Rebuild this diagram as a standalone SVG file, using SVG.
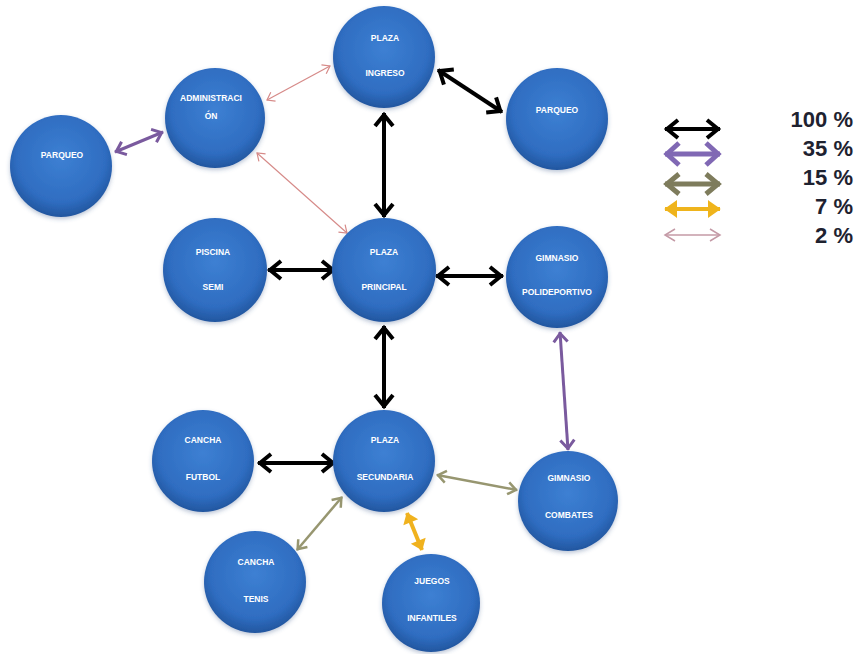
<svg xmlns="http://www.w3.org/2000/svg" width="858" height="654" viewBox="0 0 858 654">
<style>
.n{fill:url(#gb);filter:url(#sh)}
.t{font-family:"Liberation Sans",Arial,sans-serif;font-weight:bold;font-size:8.5px;fill:#ffffff;text-anchor:middle}
.lg{font-family:"Liberation Sans",Arial,sans-serif;font-weight:bold;font-size:22px;fill:#1e2230;text-anchor:end}
.k{stroke:#000;stroke-width:4;fill:none;marker-start:url(#mk);marker-end:url(#mk)}
.p{stroke:#7a5a9e;stroke-width:3;fill:none;marker-start:url(#mp);marker-end:url(#mp)}
.o{stroke:#979670;stroke-width:2.5;fill:none;marker-start:url(#mo);marker-end:url(#mo)}
.y{stroke:#f0b21e;stroke-width:4;fill:none;marker-start:url(#my);marker-end:url(#my)}
.r{stroke:#d68a88;stroke-width:1.2;fill:none;marker-start:url(#mr);marker-end:url(#mr)}
</style>
<defs>
<radialGradient id="gb" cx="50%" cy="42%" r="58%">
<stop offset="0" stop-color="#3d80d3"/>
<stop offset="0.75" stop-color="#2f6dc1"/>
<stop offset="1" stop-color="#22569f"/>
</radialGradient>
<filter id="sh" x="-20%" y="-20%" width="140%" height="140%">
<feDropShadow dx="0" dy="2" stdDeviation="2" flood-color="#3a5a8a" flood-opacity="0.35"/>
</filter>
<marker id="mk" markerUnits="userSpaceOnUse" orient="auto-start-reverse" overflow="visible" markerWidth="1" markerHeight="1">
<path d="M-13,-9 L-2,0 L-13,9" fill="none" stroke="#000" stroke-width="4" stroke-linejoin="miter"/>
</marker>
<marker id="mp" markerUnits="userSpaceOnUse" orient="auto-start-reverse" overflow="visible" markerWidth="1" markerHeight="1">
<path d="M-10,-7 L-1.5,0 L-10,7" fill="none" stroke="#7a5a9e" stroke-width="3"/>
</marker>
<marker id="mo" markerUnits="userSpaceOnUse" orient="auto-start-reverse" overflow="visible" markerWidth="1" markerHeight="1">
<path d="M-9,-6 L-1,0 L-9,6" fill="none" stroke="#979670" stroke-width="2.5"/>
</marker>
<marker id="my" markerUnits="userSpaceOnUse" orient="auto-start-reverse" overflow="visible" markerWidth="1" markerHeight="1">
<path d="M-9,-6 L-1,0 L-9,6 Z" fill="#f0b21e" stroke="#f0b21e" stroke-width="2"/>
</marker>
<marker id="mr" markerUnits="userSpaceOnUse" orient="auto-start-reverse" overflow="visible" markerWidth="1" markerHeight="1">
<path d="M-7,-5 L0,0 L-7,5" fill="none" stroke="#d68a88" stroke-width="1.2"/>
</marker>
<marker id="lp" markerUnits="userSpaceOnUse" orient="auto-start-reverse" overflow="visible" markerWidth="1" markerHeight="1">
<path d="M-14,-11 L-2,0 L-14,11" fill="none" stroke="#8068b4" stroke-width="5"/>
</marker>
<marker id="lo" markerUnits="userSpaceOnUse" orient="auto-start-reverse" overflow="visible" markerWidth="1" markerHeight="1">
<path d="M-14,-10 L-2,0 L-14,10" fill="none" stroke="#7e7c5c" stroke-width="5"/>
</marker>
<marker id="ly" markerUnits="userSpaceOnUse" orient="auto-start-reverse" overflow="visible" markerWidth="1" markerHeight="1">
<path d="M-11,-7 L-1,0 L-11,7 Z" fill="#efb41c" stroke="#efb41c" stroke-width="2"/>
</marker>
<marker id="lr" markerUnits="userSpaceOnUse" orient="auto-start-reverse" overflow="visible" markerWidth="1" markerHeight="1">
<path d="M-10,-6 L0,0 L-10,6" fill="none" stroke="#c49aa6" stroke-width="1.5"/>
</marker>
</defs>
<rect width="858" height="654" fill="#ffffff"/>

<g id="connectors">
<line class="k" x1="438" y1="70" x2="502" y2="112"/>
<line class="k" x1="384" y1="113" x2="384" y2="217"/>
<line class="k" x1="268" y1="270" x2="335" y2="270"/>
<line class="k" x1="436" y1="276" x2="503" y2="276"/>
<line class="k" x1="384" y1="326" x2="384" y2="408"/>
<line class="k" x1="258" y1="463" x2="335" y2="463"/>
<line class="p" x1="115" y1="152" x2="163" y2="132"/>
<line class="p" x1="560" y1="332" x2="568" y2="450"/>
<line class="o" x1="437" y1="475" x2="517" y2="490"/>
<line class="o" x1="342" y1="497" x2="297" y2="550"/>
<line class="y" x1="407" y1="513" x2="422" y2="550"/>
<line class="r" x1="267" y1="100" x2="330" y2="66"/>
<line class="r" x1="257" y1="153" x2="347" y2="233"/>
</g>

<g id="n-parqueo1"><circle class="n" cx="61" cy="166" r="51"/><text class="t" x="62" y="158">PARQUEO</text></g>
<g id="n-admin"><circle class="n" cx="215" cy="118" r="50"/><text class="t" x="211" y="101">ADMINISTRACI</text><text class="t" x="211" y="119">ÓN</text></g>
<g id="n-ingreso"><circle class="n" cx="384" cy="57" r="51"/><text class="t" x="385" y="41">PLAZA</text><text class="t" x="385" y="76">INGRESO</text></g>
<g id="n-parqueo2"><circle class="n" cx="557" cy="119" r="51"/><text class="t" x="557" y="113">PARQUEO</text></g>
<g id="n-piscina"><circle class="n" cx="215" cy="270" r="52"/><text class="t" x="213" y="255">PISCINA</text><text class="t" x="213" y="290">SEMI</text></g>
<g id="n-principal"><circle class="n" cx="384" cy="270" r="52"/><text class="t" x="384" y="255">PLAZA</text><text class="t" x="384" y="290">PRINCIPAL</text></g>
<g id="n-gimpoli"><circle class="n" cx="557" cy="277" r="51"/><text class="t" x="557" y="261">GIMNASIO</text><text class="t" x="557" y="295">POLIDEPORTIVO</text></g>
<g id="n-combates"><circle class="n" cx="568" cy="501" r="50"/><text class="t" x="569" y="481">GIMNASIO</text><text class="t" x="569" y="518">COMBATES</text></g>
<g id="n-secundaria"><circle class="n" cx="384" cy="461" r="51"/><text class="t" x="385" y="443">PLAZA</text><text class="t" x="385" y="480">SECUNDARIA</text></g>
<g id="n-futbol"><circle class="n" cx="203" cy="461" r="51"/><text class="t" x="203" y="443">CANCHA</text><text class="t" x="203" y="480">FUTBOL</text></g>
<g id="n-tenis"><circle class="n" cx="255" cy="582" r="51"/><text class="t" x="256" y="565">CANCHA</text><text class="t" x="256" y="602">TENIS</text></g>
<g id="n-juegos"><circle class="n" cx="431" cy="603" r="49"/><text class="t" x="432" y="584">JUEGOS</text><text class="t" x="432" y="621">INFANTILES</text></g>

<g id="legend">
<line x1="665" y1="129" x2="720" y2="129" stroke="#000" stroke-width="4" marker-start="url(#mk)" marker-end="url(#mk)"/>
<line x1="665" y1="154" x2="720" y2="154" stroke="#8068b4" stroke-width="5" marker-start="url(#lp)" marker-end="url(#lp)"/>
<line x1="665" y1="184" x2="720" y2="184" stroke="#7e7c5c" stroke-width="5" marker-start="url(#lo)" marker-end="url(#lo)"/>
<line x1="665" y1="209" x2="720" y2="209" stroke="#efb41c" stroke-width="4" marker-start="url(#ly)" marker-end="url(#ly)"/>
<line x1="665" y1="235" x2="720" y2="235" stroke="#c49aa6" stroke-width="1.5" marker-start="url(#lr)" marker-end="url(#lr)"/>
<text class="lg" x="853" y="127">100 %</text>
<text class="lg" x="853" y="156">35 %</text>
<text class="lg" x="853" y="185">15 %</text>
<text class="lg" x="853" y="214">7 %</text>
<text class="lg" x="853" y="243">2 %</text>
</g>
</svg>
